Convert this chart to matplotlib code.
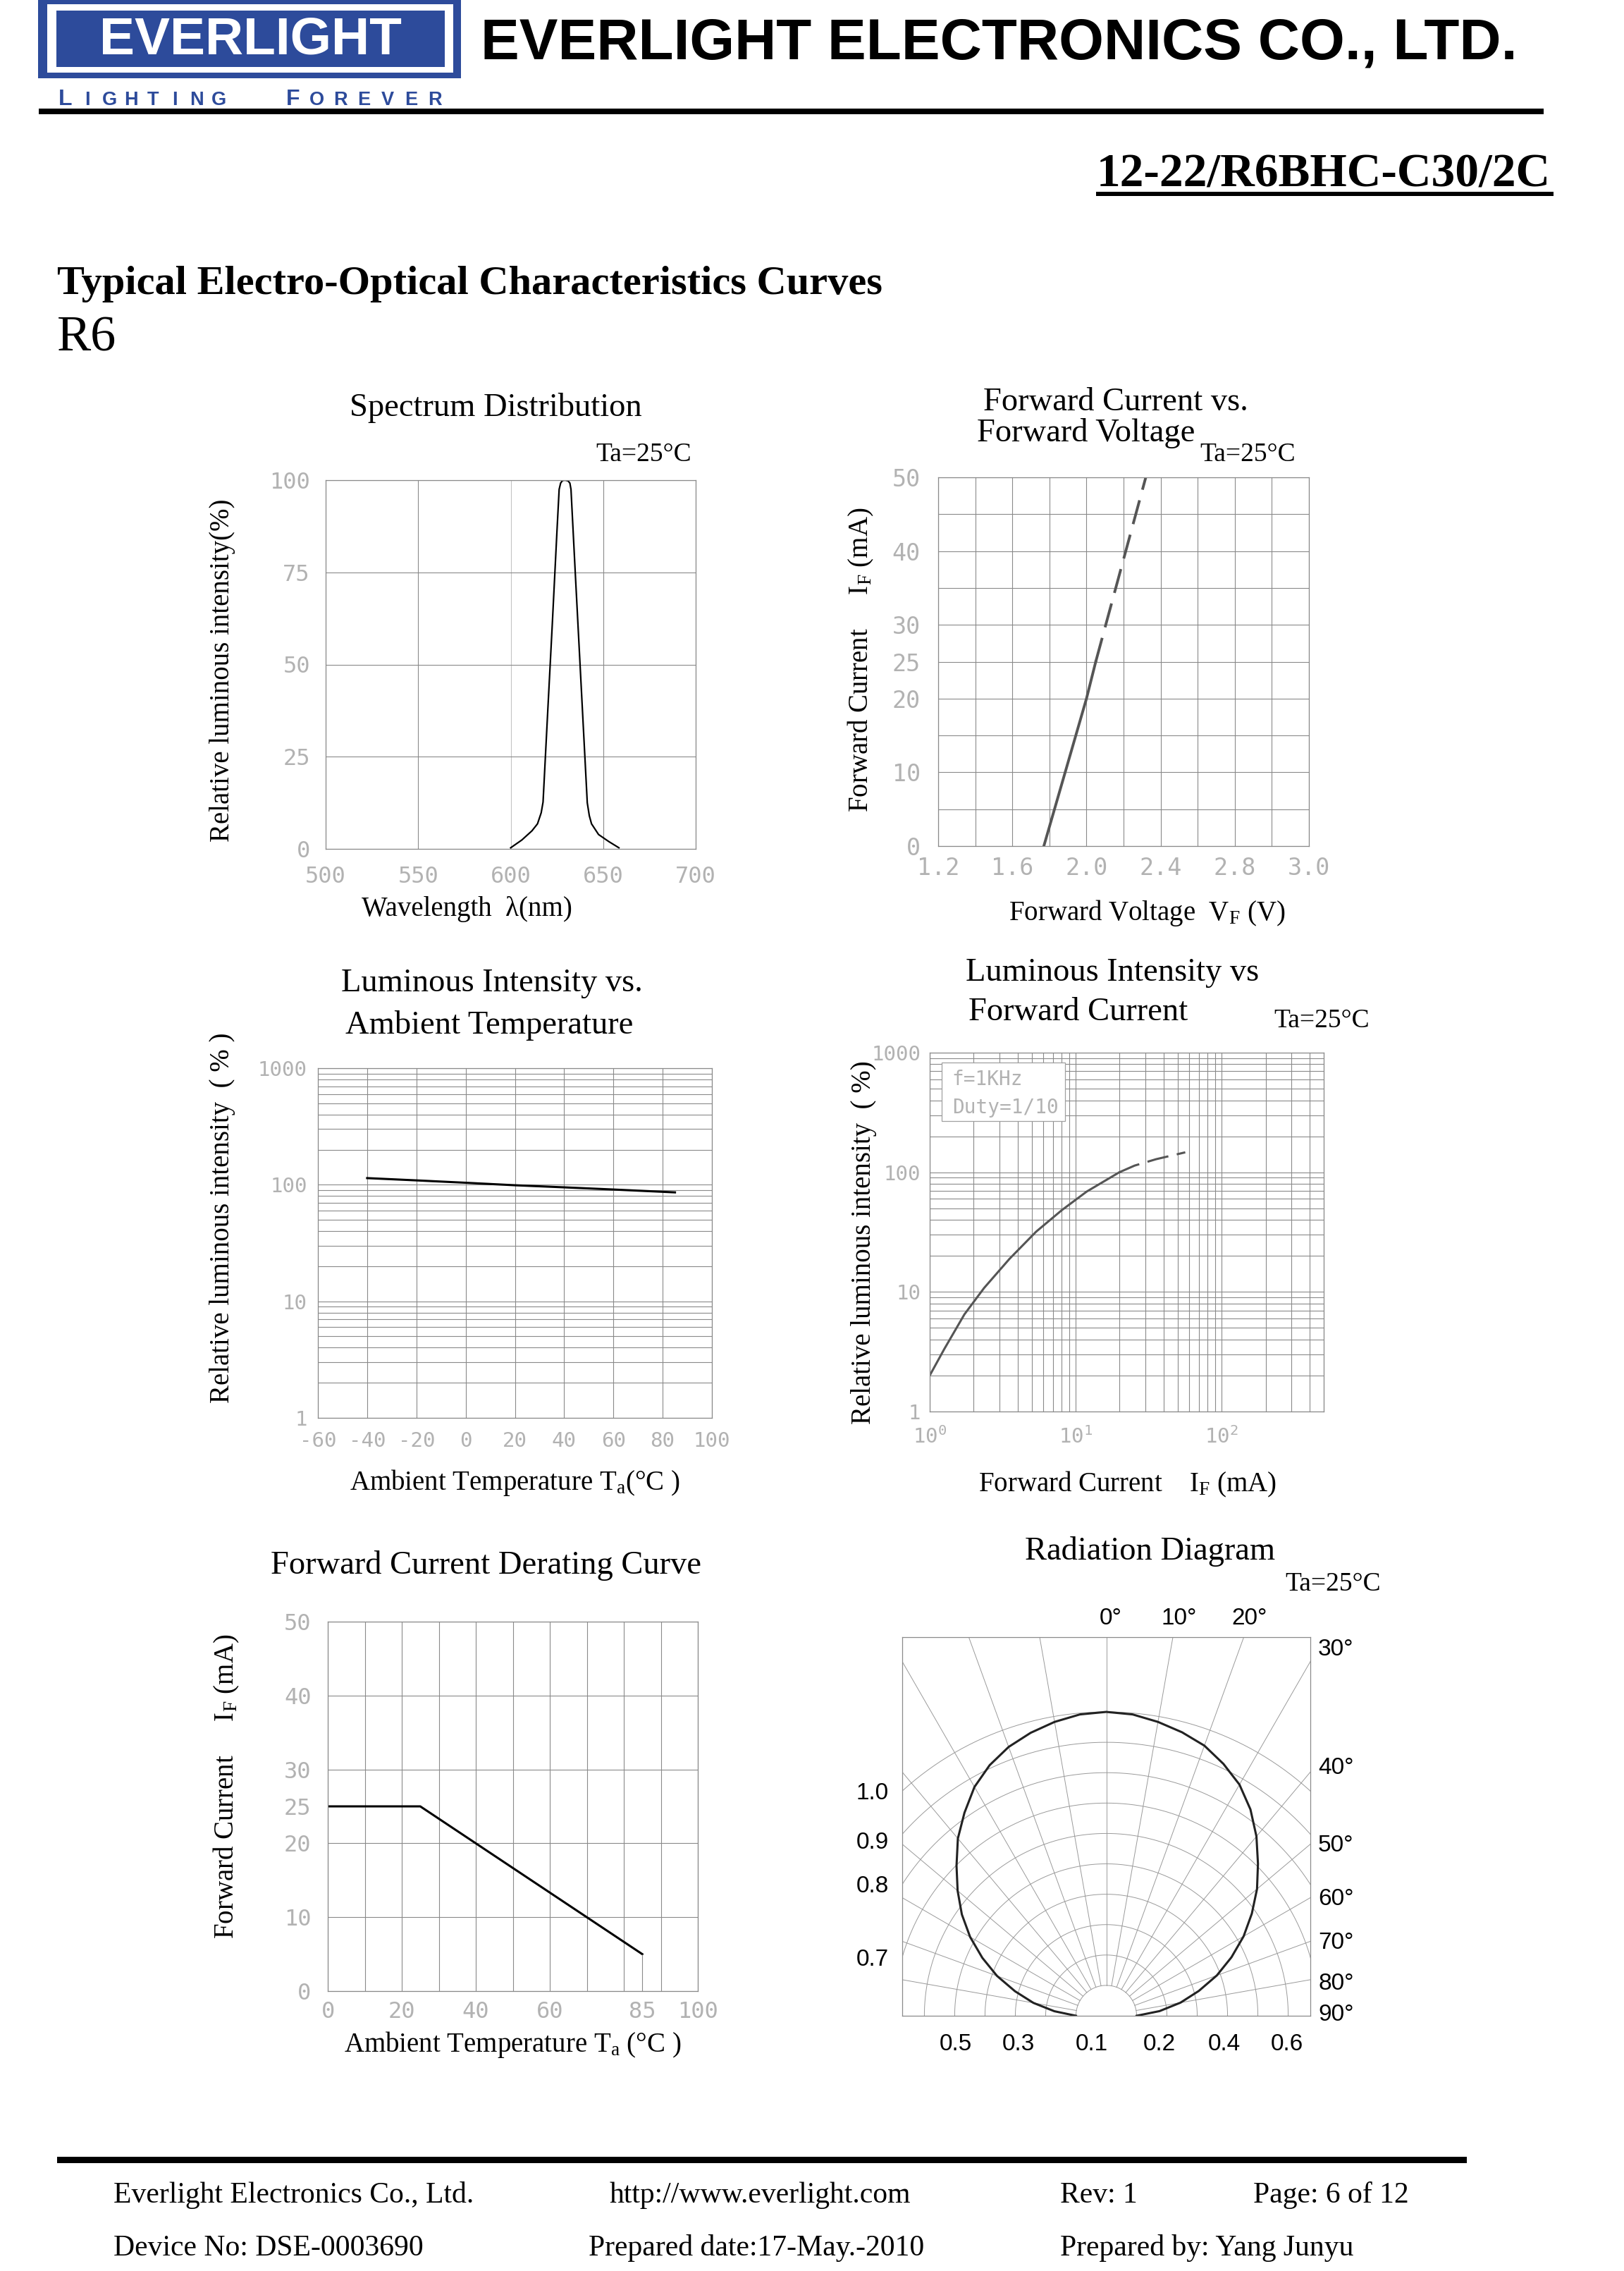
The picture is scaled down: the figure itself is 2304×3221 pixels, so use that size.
"""
Everlight 12-22/R6BHC-C30/2C datasheet page 6: typical electro-optical curves (R6)
"""
import numpy as np
import matplotlib
matplotlib.use("Agg")
import matplotlib.pyplot as plt
from matplotlib.patches import Rectangle
from matplotlib.ticker import LogLocator, NullFormatter

# ---- values ----
spec_wl = [600, 606, 611.5, 614.5, 616.5, 617.5, 620, 622.5, 625, 626.2, 627, 628,
           629.4, 631, 632, 632.6, 635, 637.5, 640, 641.4, 642.5, 643.7, 647.5, 653, 658.5]
spec_rel = [0.3, 2.4, 4.9, 6.8, 9.8, 12.7, 37, 61, 86, 97.5, 99.2, 99.9,
            100, 99.8, 99.2, 97.5, 74, 50, 26, 12.5, 9, 6.8, 3.9, 2.0, 0.3]

vf_solid = [1.77, 2.00, 2.05]
if_solid = [0, 20, 25]
vf_dash = [2.05, 2.32]
if_dash = [25, 50]

ta_temp = [-40, -20, 0, 20, 40, 60, 85]
ta_rel = [114, 109, 104, 99, 95, 91, 86]

liv_if_solid = [1.0, 1.26, 1.73, 2.36, 3.52, 5.36, 8.06, 11.9, 19.9]
liv_rel_solid = [2.0, 3.34, 6.5, 10.8, 18.9, 31.9, 48.4, 69, 100]
liv_if_dash = [19.9, 25.3, 35.5, 56.3]
liv_rel_dash = [100, 113.7, 128.6, 146.8]

der_temp = [0, 25, 85]
der_if = [25, 25, 5]

rad_angle = [-90, -85, -80, -75, -70, -65, -60, -55, -50, -45, -40, -35, -30, -25, -20, -15, -10, -5,
             0, 5, 10, 15, 20, 25, 30, 35, 40, 45, 50, 55, 60, 65, 70, 75, 80, 85, 90]
rad_rel = [0.0, 0.08, 0.16, 0.235, 0.315, 0.39, 0.465, 0.535, 0.60, 0.665, 0.735, 0.795, 0.855,
           0.90, 0.935, 0.96, 0.98, 0.995, 1.0, 0.995, 0.98, 0.962, 0.94, 0.905, 0.865, 0.81,
           0.745, 0.675, 0.61, 0.54, 0.47, 0.395, 0.32, 0.24, 0.165, 0.085, 0.0]

W, H = 2304, 3221
BLUE = '#2d4b9b'
GRID = '#8a8a8a'
TICK_C = '#b2b2b2'
TICK_F = 'DejaVu Sans Mono'
SERIF = 'Liberation Serif'
SANS = 'Liberation Sans'

plt.rcParams['font.family'] = SERIF
plt.rcParams['mathtext.fontset'] = 'custom'
plt.rcParams['mathtext.rm'] = SERIF
plt.rcParams['mathtext.it'] = SERIF + ':italic'
plt.rcParams['mathtext.bf'] = SERIF + ':bold'

fig = plt.figure(figsize=(W / 100, H / 100), dpi=100)


def add_text(x, y, s, **kw):
    kw.setdefault('ha', 'center')
    kw.setdefault('va', 'center')
    return fig.text(x / W, 1 - y / H, s, **kw)


def add_box(x0, y0, x1, y1, color):
    fig.add_artist(Rectangle((x0 / W, 1 - y1 / H), (x1 - x0) / W, (y1 - y0) / H,
                             transform=fig.transFigure, facecolor=color, edgecolor='none'))


def add_axes_px(x0, y0, x1, y1):
    return fig.add_axes([x0 / W, 1 - y1 / H, (x1 - x0) / W, (y1 - y0) / H])


def style(ax, pad_x, pad_y):
    ax.set_axisbelow(True)
    for sp in ax.spines.values():
        sp.set_color(GRID)
        sp.set_linewidth(0.9)
    ax.tick_params(which='both', length=0, labelcolor=TICK_C)
    ax.tick_params(axis='x', pad=pad_x)
    ax.tick_params(axis='y', pad=pad_y)


def tick_kw(size):
    return dict(fontfamily=TICK_F, fontsize=size, color=TICK_C)


TITLE = 33.5

# ---- header ----
add_box(54, 0, 654, 111, BLUE)
add_box(67, 6, 643, 103, 'white')
add_box(80, 15, 631, 95, BLUE)
add_text(355, 57, 'EVERLIGHT', color='white', fontsize=54, weight='bold', family=SANS)
for i, ch in enumerate('LIGHTING'):
    add_text(79 + 14 + i * 31, 149, ch, va='baseline', color=BLUE, weight='bold', family=SANS,
             fontsize=23 if i == 0 else 19.5)
for i, ch in enumerate('FOREVER'):
    add_text(401 + 15 + i * 33.5, 149, ch, va='baseline', color=BLUE, weight='bold', family=SANS,
             fontsize=23 if i == 0 else 19.5)
add_text(682, 83, 'EVERLIGHT ELECTRONICS CO., LTD.', ha='left', va='baseline',
         fontsize=59, weight='bold', family=SANS)
add_box(55, 154, 2190, 162, 'black')

add_text(2200, 265, '12-22/R6BHC-C30/2C', ha='right', va='baseline', fontsize=48.5, weight='bold')
add_box(1555, 272, 2204, 278, 'black')
add_text(81, 417, 'Typical Electro-Optical Characteristics Curves', ha='left', va='baseline',
         fontsize=42, weight='bold')
add_text(81, 497, 'R6', ha='left', va='baseline', fontsize=52)

# ---- spectrum distribution ----
ax1 = add_axes_px(462, 681, 987, 1204)
ax1.plot(spec_wl, spec_rel, color='black', lw=1.6)
ax1.set_xlim(500, 700)
ax1.set_ylim(0, 100)
ax1.set_xticks([500, 550, 600, 650, 700], ['500', '550', '600', '650', '700'], **tick_kw(23))
ax1.set_yticks([0, 25, 50, 75, 100], ['0', '25', '50', '75', '100'], **tick_kw(23))
ax1.grid(color=GRID, lw=0.8)
for gl, v in zip(ax1.get_xgridlines(), [500, 550, 600, 650, 700]):
    if v == 600:
        gl.set_color('#c4c4c4')
style(ax1, 17, 16)
add_text(703, 579, 'Spectrum Distribution', fontsize=TITLE)
add_text(981, 645, 'Ta=25°C', ha='right', fontsize=27)
add_text(662, 1290, 'Wavelength  λ(nm)', fontsize=28)
add_text(316, 951, 'Relative luminous intensity(%)', rotation=90, fontsize=28)

# ---- forward current vs forward voltage ----
ax2 = add_axes_px(1331, 677, 1857, 1200)
ax2.plot(vf_solid, if_solid, color='#555555', lw=2.8)
ax2.plot(vf_dash, if_dash, color='#555555', lw=2.8, dashes=(9, 4))
ax2.set_xlim(1.2, 3.2)
ax2.set_ylim(0, 50)
ax2.set_xticks([1.2, 1.6, 2.0, 2.4, 2.8, 3.2], ['1.2', '1.6', '2.0', '2.4', '2.8', '3.0'],
               **tick_kw(24))
ax2.set_yticks([0, 10, 20, 25, 30, 40, 50], ['0', '10', '20', '25', '30', '40', '50'], **tick_kw(24))
ax2.set_xticks([1.2, 1.4, 1.6, 1.8, 2.0, 2.2, 2.4, 2.6, 2.8, 3.0, 3.2], minor=True)
ax2.set_yticks([0, 5, 10, 15, 20, 25, 30, 35, 40, 45, 50], minor=True)
ax2.grid(which='both', color=GRID, lw=0.8)
style(ax2, 11, 18)
add_text(1395, 571, 'Forward Current vs.', ha='left', fontsize=TITLE)
add_text(1386, 614, 'Forward Voltage', ha='left', fontsize=TITLE)
add_text(1770, 645, 'Ta=25°C', fontsize=27)
add_text(1627, 1295, r'Forward Voltage  V$_\mathrm{F}$ (V)', fontsize=28)
add_text(1221, 936, r'Forward Current     I$_\mathrm{F}$ (mA)', rotation=90, fontsize=28)

# ---- luminous intensity vs ambient temperature ----
ax3 = add_axes_px(451, 1515, 1010, 2011)
ax3.semilogy(ta_temp, ta_rel, color='black', lw=2.2)
ax3.set_xlim(-60, 100)
ax3.set_ylim(1, 1000)
ax3.set_xticks([-60, -40, -20, 0, 20, 40, 60, 80, 100],
               ['-60', '-40', '-20', '0', '20', '40', '60', '80', '100'], **tick_kw(21))
ax3.set_yticks([1, 10, 100, 1000], ['1', '10', '100', '1000'], **tick_kw(21))
ax3.yaxis.set_minor_locator(LogLocator(base=10, subs=(2, 3, 4, 5, 6, 7, 8, 9)))
ax3.yaxis.set_minor_formatter(NullFormatter())
ax3.grid(which='both', color=GRID, lw=0.8)
style(ax3, 14, 11)
add_text(698, 1395, 'Luminous Intensity vs.', fontsize=TITLE)
add_text(694, 1454, 'Ambient Temperature', fontsize=TITLE)
add_text(730, 2103, r'Ambient Temperature T$_\mathrm{a}$(°C )', fontsize=28)
add_text(316, 1727, 'Relative luminous intensity  ( % )', rotation=90, fontsize=28)

# ---- luminous intensity vs forward current ----
ax4 = add_axes_px(1319, 1493, 1878, 2002)
ax4.loglog(liv_if_solid, liv_rel_solid, color='#555555', lw=2.2)
ax4.loglog(liv_if_dash, liv_rel_dash, color='#555555', lw=2.2, dashes=(10, 4))
ax4.set_xlim(1, 500)
ax4.set_ylim(1, 1000)
ax4.set_xticks([1, 10, 100], [r'$\mathregular{10^{0}}$', r'$\mathregular{10^{1}}$',
                              r'$\mathregular{10^{2}}$'], **tick_kw(21))
ax4.set_yticks([1, 10, 100, 1000], ['1', '10', '100', '1000'], **tick_kw(21))
for axis in (ax4.xaxis, ax4.yaxis):
    axis.set_minor_locator(LogLocator(base=10, subs=(2, 3, 4, 5, 6, 7, 8, 9)))
    axis.set_minor_formatter(NullFormatter())
ax4.grid(which='both', color=GRID, lw=0.8)
style(ax4, 15, 9)
ax4.add_patch(Rectangle((0.030, 0.809), 0.313, 0.1635, transform=ax4.transAxes,
                        facecolor='white', edgecolor='#a0a0a0', lw=0.9, zorder=3))
ax4.text(0.057, 0.925, 'f=1KHz', transform=ax4.transAxes, va='center', zorder=4, **tick_kw(20))
ax4.text(0.057, 0.847, 'Duty=1/10', transform=ax4.transAxes, va='center', zorder=4, **tick_kw(20))
add_text(1578, 1380, 'Luminous Intensity vs', fontsize=TITLE)
add_text(1374, 1436, 'Forward Current', ha='left', fontsize=TITLE)
add_text(1875, 1448, 'Ta=25°C', fontsize=27)
add_text(1599, 2105, r'Forward Current    I$_\mathrm{F}$ (mA)', fontsize=28)
add_text(1226, 1762, 'Relative luminous intensity  ( %)', rotation=90, fontsize=28)

# ---- forward current derating curve ----
ax5 = add_axes_px(465, 2300, 990, 2824)
ax5.plot(der_temp, der_if, color='black', lw=2.2)
ax5.vlines(der_temp[-1], 0, der_if[-1], color=GRID, lw=0.8)
ax5.set_xlim(0, 100)
ax5.set_ylim(0, 50)
ax5.set_xticks([0, 20, 40, 60, 85, 100], ['0', '20', '40', '60', '85', '100'], **tick_kw(23))
ax5.set_yticks([0, 10, 20, 25, 30, 40, 50], ['0', '10', '20', '25', '30', '40', '50'], **tick_kw(23))
ax5.set_xticks(list(range(0, 101, 10)), minor=True)
ax5.set_yticks(list(range(0, 51, 10)), minor=True)
ax5.xaxis.remove_overlapping_locs = False
ax5.yaxis.remove_overlapping_locs = False
ax5.grid(which='minor', color=GRID, lw=0.8)
ax5.grid(which='major', visible=False)
style(ax5, 10, 17)
add_text(690, 2221, 'Forward Current Derating Curve', fontsize=TITLE)
add_text(727, 2900, r'Ambient Temperature T$_\mathrm{a}$ (°C )', fontsize=28)
add_text(321, 2534, r'Forward Current     I$_\mathrm{F}$ (mA)', rotation=90, fontsize=28)

# ---- radiation diagram ----
ax6 = add_axes_px(1280, 2322, 1859, 2859)
ax6.set_xlim(-6.73, 6.73)
ax6.set_ylim(0, 12.46)
ax6.set_xticks([])
ax6.set_yticks([])
for sp in ax6.spines.values():
    sp.set_color(GRID)
    sp.set_linewidth(0.9)
th = np.radians(np.linspace(-90, 90, 361))
for r in range(1, 11):
    ax6.plot(r * np.sin(th), r * np.cos(th), color='#9a9a9a', lw=0.7)
for a in range(-80, 81, 10):
    t = np.radians(a)
    ax6.plot([np.sin(t), 20 * np.sin(t)], [np.cos(t), 20 * np.cos(t)], color='#9a9a9a', lw=0.7)
t = np.radians(rad_angle)
r = 1 + 9 * np.array(rad_rel)
ax6.plot(r * np.sin(t), r * np.cos(t), color='#222222', lw=2.2)

add_text(1632, 2200, 'Radiation Diagram', fontsize=TITLE)
add_text(1823, 2247, 'Ta=25°C', ha='left', fontsize=27)
for s, x in [('0°', 1576), ('10°', 1673), ('20°', 1773)]:
    add_text(x, 2295, s, family=SANS, fontsize=24)
for s, y in [('30°', 2339), ('40°', 2507), ('50°', 2617), ('60°', 2693),
             ('70°', 2755), ('80°', 2813), ('90°', 2857)]:
    add_text(1870, y, s, ha='left', family=SANS, fontsize=24)
for s, y in [('1.0', 2543), ('0.9', 2614), ('0.8', 2675), ('0.7', 2780)]:
    add_text(1261, y, s, ha='right', family=SANS, fontsize=24)
for s, x in [('0.5', 1356), ('0.3', 1445), ('0.1', 1549), ('0.2', 1645), ('0.4', 1737), ('0.6', 1826)]:
    add_text(x, 2900, s, family=SANS, fontsize=24)

# ---- footer ----
add_box(81, 3059, 2081, 3068, 'black')
add_text(161, 3124, 'Everlight Electronics Co., Ltd.', ha='left', va='baseline', fontsize=30)
add_text(865, 3124, 'http://www.everlight.com', ha='left', va='baseline', fontsize=30)
add_text(1504, 3124, 'Rev: 1', ha='left', va='baseline', fontsize=30)
add_text(1778, 3124, 'Page: 6 of 12', ha='left', va='baseline', fontsize=30)
add_text(161, 3199, 'Device No: DSE-0003690', ha='left', va='baseline', fontsize=30)
add_text(835, 3199, 'Prepared date:17-May.-2010', ha='left', va='baseline', fontsize=30)
add_text(1504, 3199, 'Prepared by: Yang Junyu', ha='left', va='baseline', fontsize=30)

fig.savefig('out.png', dpi=100)
plt.close(fig)
print("Saved out.png")
